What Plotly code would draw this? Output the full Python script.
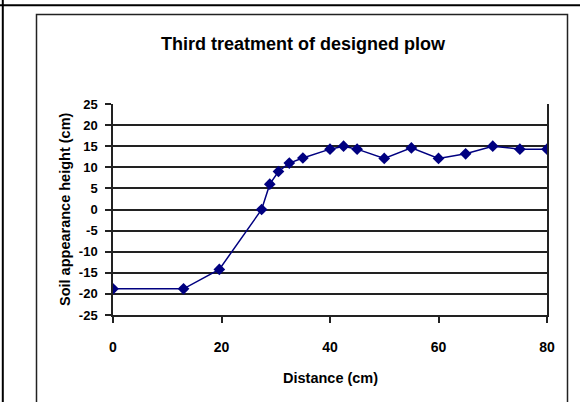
import plotly.graph_objects as go

distance_cm = [0, 13, 19.6, 27.4, 28.9, 30.5, 32.5, 35, 40, 42.5, 45, 50, 55, 60, 65, 70, 75, 80]
height_cm = [-18.8, -18.8, -14.2, 0, 6, 9, 11, 12.2, 14.3, 15, 14.3, 12.1, 14.6, 12.1, 13.2, 15, 14.3, 14.3]
x_ticks = [0, 20, 40, 60, 80]
y_ticks = [-25, -20, -15, -10, -5, 0, 5, 10, 15, 20, 25]

W, H = 580, 402
L, R, T, B = 113, 33, 104, 87
pw, ph = W - L - R, H - T - B

def px(x):
    return (x - L) / pw

def py(y):
    return 1 - (y - T) / ph

FONT = "Liberation Sans, Arial"

fig = go.Figure()
fig.add_trace(go.Scatter(
    x=distance_cm, y=height_cm, mode="lines+markers",
    line=dict(color="#000080", width=1.5),
    marker=dict(symbol="diamond", size=9, color="#000080"),
    showlegend=False,
))

fig.update_layout(
    width=W, height=H,
    margin=dict(l=L, r=R, t=T, b=B),
    paper_bgcolor="white", plot_bgcolor="white",
    title=dict(text="<b>Third treatment of designed plow</b>",
               x=303 / W, xanchor="center", y=1 - 44 / H, yanchor="middle",
               font=dict(family=FONT, size=18, color="black")),
    xaxis=dict(range=[0, 80], tickvals=x_ticks, ticktext=[f"<b>{v}</b>" for v in x_ticks],
               showgrid=False, zeroline=False, showline=True, linecolor="#222", linewidth=1.5,
               mirror=False, ticks="outside", ticklen=6, tickcolor="#222", tickwidth=1.5,
               ticklabelstandoff=12,
               tickfont=dict(family=FONT, size=14, color="black")),
    yaxis=dict(range=[-25, 25], tickvals=y_ticks, ticktext=[f"<b>{v}</b>" for v in y_ticks],
               showgrid=True, gridcolor="#222", gridwidth=1.5, zeroline=False,
               showline=True, linecolor="#222", linewidth=1.5, mirror=True,
               ticks="outside", ticklen=6, tickcolor="#222", tickwidth=1.5,
               ticklabelstandoff=5,
               tickfont=dict(family=FONT, size=13, color="black")),
    annotations=[
        dict(text="<b>Distance (cm)</b>", xref="paper", yref="paper",
             x=px(330), y=py(378), xanchor="center", yanchor="middle", showarrow=False,
             font=dict(family=FONT, size=14.5, color="black")),
        dict(text="<b>Soil appearance height (cm)</b>", xref="paper", yref="paper",
             x=px(65), y=py(209), xanchor="center", yanchor="middle", showarrow=False,
             textangle=-90, font=dict(family=FONT, size=14.5, color="black")),
    ],
    shapes=[
        dict(type="line", xref="paper", yref="paper", x0=px(0), x1=px(W), y0=py(5.3), y1=py(5.3),
             line=dict(color="black", width=2)),
        dict(type="line", xref="paper", yref="paper", x0=px(2.8), x1=px(2.8), y0=py(0), y1=py(H),
             line=dict(color="black", width=2)),
        dict(type="rect", xref="paper", yref="paper", x0=px(36.5), x1=px(567.5), y0=py(14.5), y1=py(H + 20),
             line=dict(color="#222", width=1.5)),
        dict(type="line", xref="paper", yref="paper", x0=1, x1=1, y0=0, y1=py(T + ph + 6),
             line=dict(color="#222", width=1.5)),
    ],
)

fig.write_html("out.html", config={"displayModeBar": False},
               post_script="document.body.style.margin='0px';")
